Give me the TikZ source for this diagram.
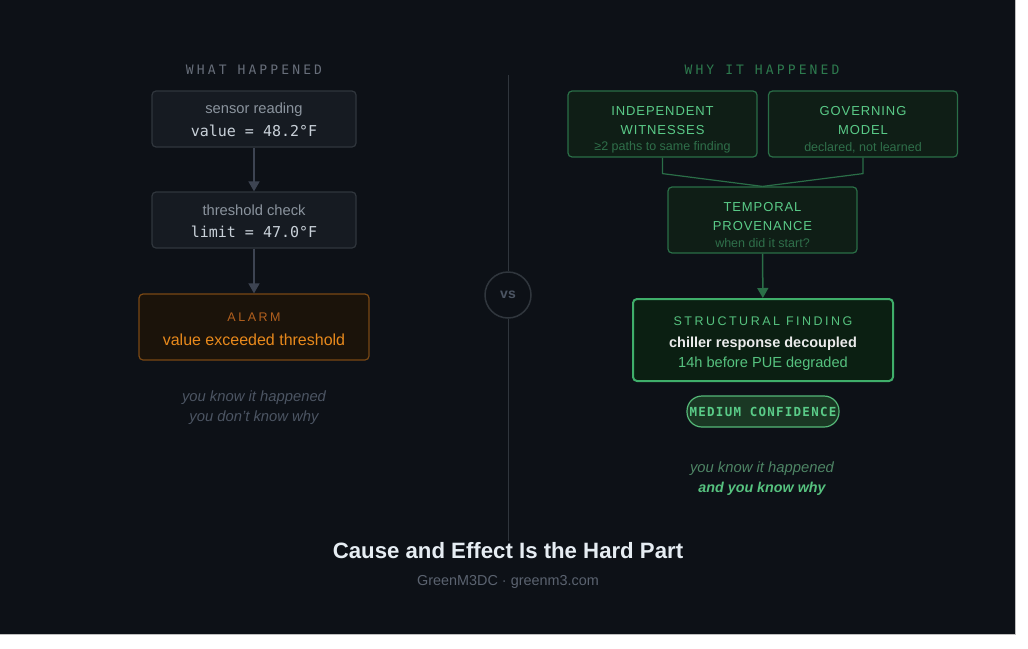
\documentclass[tikz,border=0pt]{standalone}
\usepackage{fontspec}
\setmainfont{Liberation Sans}
\newfontfamily\monofont{DejaVu Sans Mono}
\newfontfamily\capsfont[LetterSpace=7]{Liberation Sans}
\newfontfamily\widecaps[LetterSpace=20]{Liberation Sans}
\newfontfamily\monocaps[LetterSpace=24]{DejaVu Sans Mono}
\newfontfamily\pillfont[LetterSpace=10]{DejaVu Sans Mono}
\usetikzlibrary{arrows.meta, positioning, calc}

\definecolor{pagebg}{HTML}{0D1117}
\definecolor{boxfill}{HTML}{161B22}
\definecolor{boxedge}{HTML}{30363D}
\definecolor{greytext}{HTML}{8B949E}
\definecolor{monotext}{HTML}{C9D1D9}
\definecolor{arrowgrey}{HTML}{3D4452}
\definecolor{dimtext}{HTML}{4C5563}
\definecolor{alarmfill}{HTML}{1B130A}
\definecolor{alarmedge}{HTML}{7A4814}
\definecolor{alarmcap}{HTML}{B2601E}
\definecolor{alarmtext}{HTML}{E8891C}
\definecolor{greenhead}{HTML}{2D7A4E}
\definecolor{greenfill}{HTML}{0F1E16}
\definecolor{greenedge}{HTML}{2A6E47}
\definecolor{greencap}{HTML}{5ACB88}
\definecolor{greensub}{HTML}{2F6F4A}
\definecolor{findfill}{HTML}{0B1F12}
\definecolor{findedge}{HTML}{3FAE6A}
\definecolor{findtext}{HTML}{56C27F}
\definecolor{pillfill}{HTML}{1A3824}
\definecolor{pilledge}{HTML}{55B878}
\definecolor{titletext}{HTML}{E6EDF3}
\definecolor{foottext}{HTML}{5B6370}

\begin{document}
\begin{tikzpicture}[x=1pt, y=-1pt,
  greybox/.style={rectangle, draw=boxedge, fill=boxfill, rounded corners=4pt,
    line width=1.2pt, minimum width=204pt, minimum height=56pt, inner sep=0pt},
  alarmbox/.style={greybox, draw=alarmedge, fill=alarmfill,
    minimum width=230pt, minimum height=66pt},
  greenbox/.style={rectangle, draw=greenedge, fill=greenfill, rounded corners=4pt,
    line width=1.2pt, minimum width=189pt, minimum height=66pt, inner sep=0pt},
  findbox/.style={greenbox, draw=findedge, fill=findfill, line width=2pt,
    minimum width=260pt, minimum height=82pt},
  pill/.style={rectangle, draw=pilledge, fill=pillfill, rounded corners=15pt,
    line width=1.2pt, minimum width=152pt, minimum height=31pt, inner sep=0pt},
  txt/.style={inner sep=0pt, anchor=center},
  arrow/.style={-{Triangle[length=10pt, width=11pt]}, line width=1.5pt, draw=arrowgrey},
  greenarrow/.style={arrow, draw=greenedge}
]
\useasboundingbox (0,0) rectangle (1028,648);
\fill[pagebg] (0,0) rectangle (1015,634);
\draw[black!25, line width=0.6pt] (0,634) -- (1015,634) -- (1015,0);

% divider
\node (vs) [circle, draw=boxedge, line width=1.5pt, minimum size=46pt, inner sep=0pt,
  font=\bfseries\fontsize{14}{14}\selectfont, text=dimtext] at (508,295) {vs};
\coordinate (divtop) at (508,75);
\coordinate (divbot) at (508,541);
\draw[boxedge, line width=1pt] (divtop) -- (vs.north);
\draw[boxedge, line width=1pt] (vs.south) -- (divbot);

% left column
\node (whathead) [txt, font=\monocaps\fontsize{13}{13}\selectfont, text=dimtext!85!white]
  at (254,69.5) {WHAT HAPPENED};

\node (sensor) [greybox] at (254,119) {};
\node (sensorA) [txt, font=\fontsize{14.7}{15}\selectfont, text=greytext]
  at ($(sensor.center)+(0,-9.5)$) {sensor reading};
\node (sensorB) [txt, font=\monofont\fontsize{15}{15}\selectfont, text=monotext]
  at ($(sensor.center)+(0,12)$) {value = 48.2°F};

\node (thresh) [greybox] at (254,220) {};
\node (threshA) [txt, font=\fontsize{14.7}{15}\selectfont, text=greytext]
  at ($(thresh.center)+(0,-9.5)$) {threshold check};
\node (threshB) [txt, font=\monofont\fontsize{15}{15}\selectfont, text=monotext]
  at ($(thresh.center)+(0,12)$) {limit = 47.0°F};

\node (alarm) [alarmbox] at (254,327) {};
\node (alarmA) [txt, font=\widecaps\fontsize{12.5}{13}\selectfont, text=alarmcap]
  at ($(alarm.center)+(0,-9.5)$) {ALARM};
\node (alarmB) [txt, font=\fontsize{16}{16}\selectfont, text=alarmtext]
  at ($(alarm.center)+(0,13)$) {value exceeded threshold};

\draw[arrow] (sensor) -- (thresh);
\draw[arrow] (thresh) -- (alarm);

\node (leftnoteA) [txt, font=\itshape\fontsize{14.8}{15}\selectfont, text=dimtext]
  at (254,397.5) {you know it happened};
\node (leftnoteB) [txt, font=\itshape\fontsize{14.8}{15}\selectfont, text=dimtext]
  at (254,417.5) {you don't know why};

% right column
\node (whyhead) [txt, font=\monocaps\fontsize{13}{13}\selectfont, text=greenhead]
  at (762,69.5) {WHY IT HAPPENED};

\node (witness) [greenbox] at (662.5,124) {};
\node (witnessA) [txt, font=\capsfont\fontsize{13}{13}\selectfont, text=greencap]
  at ($(witness.center)+(0,-13)$) {INDEPENDENT};
\node (witnessB) [txt, font=\capsfont\fontsize{13}{13}\selectfont, text=greencap]
  at ($(witness.center)+(0,6)$) {WITNESSES};
\node (witnessC) [txt, font=\fontsize{12.5}{13}\selectfont, text=greensub]
  at ($(witness.center)+(0,23.5)$) {≥2 paths to same finding};

\node (governing) [greenbox] at (863,124) {};
\node (governingA) [txt, font=\capsfont\fontsize{13}{13}\selectfont, text=greencap]
  at ($(governing.center)+(0,-13)$) {GOVERNING};
\node (governingB) [txt, font=\capsfont\fontsize{13}{13}\selectfont, text=greencap]
  at ($(governing.center)+(0,6)$) {MODEL};
\node (governingC) [txt, font=\fontsize{12.5}{13}\selectfont, text=greensub]
  at ($(governing.center)+(0,23.5)$) {declared, not learned};

\node (temporal) [greenbox] at (762.5,220) {};
\node (temporalA) [txt, font=\capsfont\fontsize{13}{13}\selectfont, text=greencap]
  at ($(temporal.center)+(0,-13)$) {TEMPORAL};
\node (temporalB) [txt, font=\capsfont\fontsize{13}{13}\selectfont, text=greencap]
  at ($(temporal.center)+(0,6.5)$) {PROVENANCE};
\node (temporalC) [txt, font=\fontsize{12.5}{13}\selectfont, text=greensub]
  at ($(temporal.center)+(0,23)$) {when did it start?};

\draw[greenedge, line width=1.2pt]
  (witness.south) -- ++(0,16) -- (temporal.north);
\draw[greenedge, line width=1.2pt]
  (governing.south) -- ++(0,16) -- (temporal.north);

\node (finding) [findbox] at (763,340) {};
\node (findingA) [txt, font=\widecaps\fontsize{12.5}{13}\selectfont, text=findtext]
  at ($(finding.center)+(0,-19)$) {STRUCTURAL FINDING};
\node (findingB) [txt, font=\bfseries\fontsize{14.5}{15}\selectfont, text=white!92!black]
  at ($(finding.center)+(0,4)$) {chiller response decoupled};
\node (findingC) [txt, font=\fontsize{14.6}{15}\selectfont, text=findtext]
  at ($(finding.center)+(0,24)$) {14h before PUE degraded};

\draw[greenarrow] (temporal) -- (finding);

\node (confidence) [pill, font=\pillfont\bfseries\fontsize{12.5}{13}\selectfont, text=greencap]
  at (763,411.5) {MEDIUM CONFIDENCE};

\node (rightnoteA) [txt, font=\itshape\fontsize{14.8}{15}\selectfont, text=greensub!85!white]
  at (762,468.5) {you know it happened};
\node (rightnoteB) [txt, font=\bfseries\itshape\fontsize{14.3}{15}\selectfont, text=findtext]
  at (762,488.5) {and you know why};

% title
\node (title) [txt, font=\bfseries\fontsize{22.2}{23}\selectfont, text=titletext]
  at (508,551) {Cause and Effect Is the Hard Part};
\node (footer) [txt, font=\fontsize{14.4}{15}\selectfont, text=foottext]
  at (508,582) {GreenM3DC · greenm3.com};

\end{tikzpicture}
\end{document}
